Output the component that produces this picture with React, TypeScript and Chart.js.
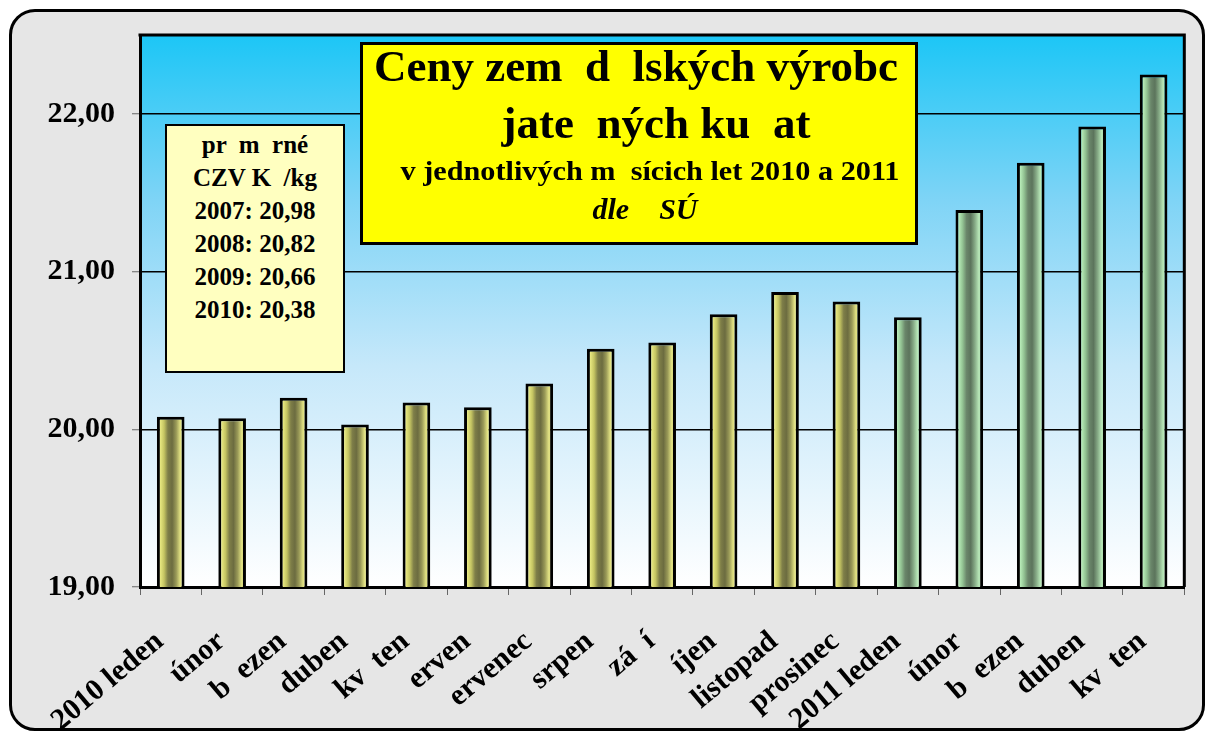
import React, { useEffect, useRef } from 'react';
import { Chart, registerables } from 'chart.js';

Chart.register(...registerables);

const categories = [
  '2010 leden', 'únor', 'b  ezen', 'duben', 'kv  ten', 'erven', 'ervenec', 'srpen',
  'zá  í', 'íjen', 'listopad', 'prosinec', '2011 leden', 'únor', 'b  ezen', 'duben', 'kv  ten',
];
const prices2010 = [20.08, 20.07, 20.2, 20.03, 20.17, 20.14, 20.29, 20.51, 20.55, 20.73, 20.87, 20.81];
const prices2011 = [20.71, 21.39, 21.69, 21.92, 22.25];
const yTicks = [19, 20, 21, 22];
const yMin = 19;
const yMax = 22.5;

const titleLines = ['Ceny zem  d  lských výrobc', 'jate  ných ku  at', 'v jednotlivých m  sícich let 2010 a 2011', 'dle    SÚ'];
const noteLines = ['pr  m  rné', 'CZV K  /kg', '2007: 20,98', '2008: 20,82', '2009: 20,66', '2010: 20,38'];

const SERIF = '"Liberation Serif", "Times New Roman", serif';

const yellowStops: [number, string][] = [
  [0, '#f0f090'], [0.12, '#e8e880'], [0.26, '#c4c462'], [0.4, '#7e7e48'], [0.55, '#6c6c40'],
  [0.7, '#9a9a58'], [0.85, '#e4e484'], [1, '#b8b868'],
];
const greenStops: [number, string][] = [
  [0, '#c8f4c8'], [0.12, '#b8ecb8'], [0.26, '#92c292'], [0.4, '#6a866a'], [0.55, '#5c745c'],
  [0.7, '#86aa86'], [0.85, '#b8e8b8'], [1, '#98c098'],
];

const plotDecor = {
  id: 'plotDecor',
  beforeDraw(chart: any) {
    const { ctx, chartArea: a } = chart;
    if (!a) return;
    const g = ctx.createLinearGradient(0, a.top, 0, a.bottom);
    g.addColorStop(0, '#1cc6f6');
    g.addColorStop(0.3, '#7fd4f6');
    g.addColorStop(0.6, '#c6e8fa');
    g.addColorStop(1, '#ffffff');
    ctx.save();
    ctx.fillStyle = g;
    ctx.fillRect(a.left, a.top, a.right - a.left, a.bottom - a.top);
    ctx.restore();
  },
  afterDraw(chart: any) {
    const { ctx, chartArea: a } = chart;
    ctx.save();
    ctx.strokeStyle = '#000';
    ctx.lineWidth = 3;
    ctx.beginPath();
    ctx.moveTo(a.left - 1.5, a.top);
    ctx.lineTo(a.right, a.top);
    ctx.lineTo(a.right, a.bottom);
    ctx.stroke();
    ctx.restore();
  },
};

export default function App() {
  const ref = useRef<HTMLCanvasElement>(null);

  useEffect(() => {
    const canvas = ref.current!;
    const values = [...prices2010, ...prices2011];
    const barPct = 0.45;

    const fill = (c: any) => {
      const chart = c.chart;
      const xs = chart.scales?.x;
      const stops = c.dataIndex < prices2010.length ? yellowStops : greenStops;
      if (!xs || !chart.chartArea) return stops[3][1];
      const cx = xs.getPixelForValue(c.dataIndex);
      const half = (xs.width / categories.length) * barPct / 2;
      const g = chart.ctx.createLinearGradient(cx - half, 0, cx + half, 0);
      stops.forEach(([o, col]) => g.addColorStop(o, col));
      return g;
    };

    const tickFont = { family: SERIF, size: 30, weight: 'bold' as const };

    const chart = new Chart(canvas, {
      type: 'bar',
      data: {
        labels: categories,
        datasets: [
          {
            data: values,
            backgroundColor: fill,
            borderColor: '#000',
            borderWidth: 3,
            barPercentage: barPct,
            categoryPercentage: 1,
          },
        ],
      },
      options: {
        responsive: false,
        maintainAspectRatio: false,
        animation: false,
        layout: { padding: { left: 0, top: 33, right: 9, bottom: 0 } },
        plugins: {
          legend: { display: false },
          title: { display: false },
          tooltip: { enabled: false },
        },
        scales: {
          x: {
            grid: {
              display: true,
              drawOnChartArea: false,
              tickLength: 8,
              tickColor: '#666',
              tickWidth: 1,
              offset: true,
            },
            border: { display: true, color: '#000', width: 3 },
            ticks: {
              autoSkip: false,
              maxRotation: 40,
              minRotation: 40,
              padding: 29,
              labelOffset: -11,
              color: '#000',
              font: tickFont,
            },
            afterFit: (s: any) => {
              s.height = 144;
            },
          },
          y: {
            min: yMin,
            max: yMax,
            afterBuildTicks: (s: any) => {
              s.ticks = yTicks.map((v) => ({ value: v }));
            },
            grid: {
              color: '#000',
              lineWidth: 1.5,
              tickLength: 8,
              tickColor: '#666',
              tickWidth: 1,
            },
            border: { display: true, color: '#000', width: 3 },
            ticks: {
              padding: 17,
              color: '#000',
              font: tickFont,
              callback: (v: any) => Number(v).toFixed(2).replace('.', ','),
            },
            afterFit: (s: any) => {
              s.width = 140;
            },
          },
        },
      },
      plugins: [plotDecor],
    });
    return () => chart.destroy();
  }, []);

  const titleSpecs = [
    { size: 45, top: 44, center: 636, italic: false, sx: 1 },
    { size: 45, top: 101, center: 656, italic: false, sx: 1 },
    { size: 28, top: 157, center: 650, italic: false, sx: 1.08 },
    { size: 30, top: 194, center: 645, italic: true, sx: 1 },
  ];

  return (
    <div style={{ position: 'fixed', left: 0, top: 0, width: 1206, height: 731, background: '#fff', overflow: 'hidden' }}>
      <div
        style={{
          position: 'absolute', left: 9, top: 9, width: 1196, height: 722, boxSizing: 'border-box',
          border: '3px solid #000', borderRadius: 26, background: '#e6e6e6',
        }}
      />
      <canvas ref={ref} width={1206} height={731} style={{ position: 'absolute', left: 0, top: 0, display: 'block' }} />
      <div
        style={{
          position: 'absolute', left: 360, top: 42, width: 558, height: 203, boxSizing: 'border-box',
          border: '3px solid #000', background: '#ffff00',
        }}
      />
      {titleLines.map((t, i) => (
        <div
          key={'t' + i}
          style={{
            position: 'absolute', left: titleSpecs[i].center - 300, width: 600, top: titleSpecs[i].top,
            textAlign: 'center', fontFamily: SERIF, fontWeight: 'bold', fontSize: titleSpecs[i].size,
            lineHeight: 1, fontStyle: titleSpecs[i].italic ? 'italic' : 'normal', whiteSpace: 'pre', color: '#000',
            transform: `scaleX(${titleSpecs[i].sx})`, transformOrigin: 'center',
          }}
        >
          {t}
        </div>
      ))}
      <div
        style={{
          position: 'absolute', left: 165, top: 124, width: 180, height: 249, boxSizing: 'border-box',
          border: '2px solid #000', background: '#ffffc0',
        }}
      />
      {noteLines.map((t, i) => (
        <div
          key={'n' + i}
          style={{
            position: 'absolute', left: 165, width: 180, top: 153 + i * 33 - 21,
            textAlign: 'center', fontFamily: SERIF, fontWeight: 'bold', fontSize: 25,
            lineHeight: 1, whiteSpace: 'pre', color: '#000',
          }}
        >
          {t}
        </div>
      ))}
    </div>
  );
}
